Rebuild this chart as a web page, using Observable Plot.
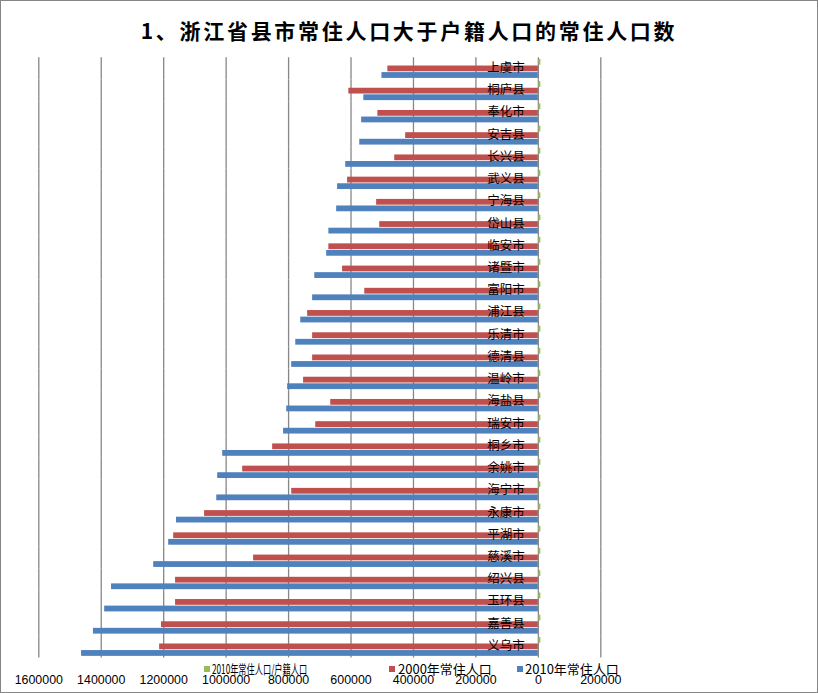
<!DOCTYPE html>
<html>
<head>
<meta charset="utf-8">
<script src="https://cdn.jsdelivr.net/npm/d3@7"></script>
<script src="https://cdn.jsdelivr.net/npm/@observablehq/plot@0.6"></script>
<style>
  html, body { margin: 0; padding: 0; background: #fff; }
  #wrap { position: relative; width: 818px; height: 693px; overflow: hidden; background: #fff; }
  #frame { position: absolute; left: 0; top: 0; width: 818px; height: 693px; box-sizing: border-box; border: 1.5px solid #868686; pointer-events: none; z-index: 5; }
  #title { position: absolute; left: 0; width: 818px; top: 19px; text-align: center; font-family: "Noto Sans CJK SC", sans-serif; font-weight: bold; font-size: 21px; line-height: 23px; letter-spacing: 2.7px; color: #000; z-index: 3; }
  #chart { position: absolute; left: 0; top: 0; }
  .lg { position: absolute; font-family: "Noto Sans CJK SC", sans-serif; font-size: 13px; line-height: 13px; color: #000; white-space: nowrap; z-index: 4; transform-origin: 0 50%; }
  .sw { position: absolute; width: 6px; height: 6px; z-index: 4; }
</style>
</head>
<body>
<div id="wrap">
  <div id="title">1、浙江省县市常住人口大于户籍人口的常住人口数</div>
  <div id="chart"></div>
  <div id="legend"></div>
  <div id="frame"></div>
</div>
<script>
const cats = ["上虞市","桐庐县","奉化市","安吉县","长兴县","武义县","宁海县","岱山县","临安市","诸暨市","富阳市","浦江县","乐清市","德清县","温岭市","海盐县","瑞安市","桐乡市","余姚市","海宁市","永康市","平湖市","慈溪市","绍兴县","玉环县","嘉善县","义乌市"];
const pop2000 = [482000,607000,514000,425000,460000,611000,518000,508000,671000,627000,556000,739000,723000,723000,752000,665000,713000,851000,947000,790000,1069000,1168000,912000,1162000,1162000,1207000,1213000];
const pop2010 = [501000,559000,566000,572000,617000,643000,646000,671000,678000,716000,723000,761000,777000,790000,803000,806000,816000,1011000,1027000,1030000,1159000,1184000,1232000,1367000,1389000,1425000,1463000];
const ratio = [1.05,1.03,1.08,1.12,1.10,1.06,1.09,1.11,1.05,1.07,1.08,1.09,1.04,1.13,1.06,1.14,1.05,1.18,1.12,1.16,1.35,1.22,1.15,1.21,1.32,1.28,1.76];
const seriesNames = ["2010年常住人口/户籍人口","2000年常住人口","2010年常住人口"];
const seriesColors = ["#9BBB59","#C0504D","#4F81BD"];
const xTicks = [1600000,1400000,1200000,1000000,800000,600000,400000,200000,0,-200000];

const rows = cats.flatMap((c, i) => [
  {cat: c, series: seriesNames[0], value: ratio[i]},
  {cat: c, series: seriesNames[1], value: pop2000[i]},
  {cat: c, series: seriesNames[2], value: pop2010[i]}
]);

const chart = Plot.plot({
  width: 818,
  height: 693,
  marginTop: 57.3,
  marginBottom: 35.5,
  marginLeft: 38.3,
  marginRight: 217.7,
  style: {fontSize: "12.4px", fontFamily: "'Liberation Sans', Arial, sans-serif", color: "#000", background: "transparent"},
  facet: {data: rows, y: "cat"},
  fy: {domain: cats, padding: 0, round: false, axis: null, label: null},
  y: {domain: seriesNames, paddingInner: 0.12, paddingOuter: 0.25, round: false, axis: null, label: null},
  x: {domain: [1600000, -200000], ticks: xTicks, tickFormat: d => String(Math.abs(d)), tickSize: 0, tickPadding: 17, label: null},
  color: {domain: seriesNames, range: seriesColors},
  marks: [
    Plot.ruleX(xTicks, {stroke: "#868686", strokeWidth: 1.3}),
    Plot.barX(rows, {filter: d => d.series !== seriesNames[0], x: "value", y: "series", fill: "series"}),
    Plot.barX(rows, {filter: d => d.series === seriesNames[0], x: "value", y: "series", fill: "series", insetLeft: 0.5, insetRight: -2.5}),
    Plot.text(rows, {filter: d => d.series === seriesNames[2], x: 0, text: "cat", textAnchor: "end", dx: -13.5, dy: -1, fontSize: 12.5, fill: "#000", fontFamily: "'Noto Sans CJK SC', sans-serif"})
  ]
});
document.getElementById("chart").appendChild(chart);

// legend
const legendPos = [{sw: 204, tx: 212, sx: 0.63}, {sw: 389, tx: 398, sx: 1}, {sw: 517, tx: 525, sx: 1}];
const lg = document.getElementById("legend");
seriesNames.forEach((name, i) => {
  const s = document.createElement("div");
  s.className = "sw";
  s.style.left = legendPos[i].sw + "px";
  s.style.top = "666px";
  s.style.background = seriesColors[i];
  lg.appendChild(s);
  const t = document.createElement("div");
  t.className = "lg";
  t.style.left = legendPos[i].tx + "px";
  t.style.top = "662px";
  t.style.transform = "scaleX(" + legendPos[i].sx + ")";
  t.textContent = name;
  lg.appendChild(t);
});
</script>
</body>
</html>
